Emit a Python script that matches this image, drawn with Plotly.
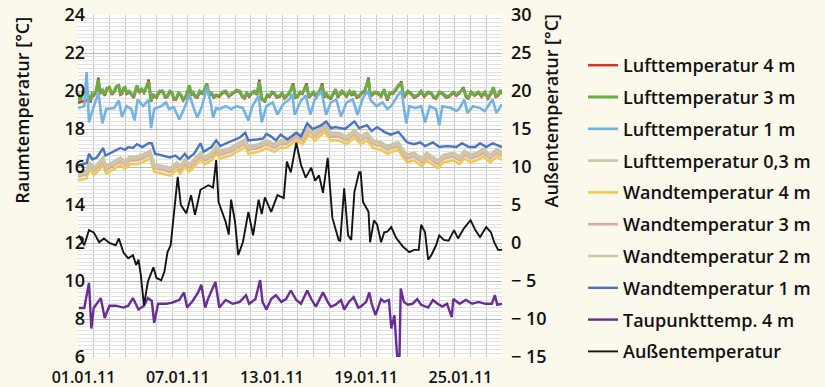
import pandas as pd
import plotly.graph_objects as go

BASE = pd.Timestamp("2011-01-01")

# ---------------- data (day offsets from 01.01.11, values in °C) ----------------
luft3_t = [0, 0.1, 0.2, 0.3, 0.4, 0.55, 0.7, 0.8, 0.9, 1.0, 1.15, 1.3, 1.4, 1.55, 1.7, 1.85, 2.0, 2.15, 2.3, 2.45,
           2.6, 2.7, 2.8, 2.9, 3.0, 3.1, 3.25, 3.4, 3.55, 3.65, 3.75, 3.9, 4.05, 4.2, 4.4, 4.5, 4.65, 4.8, 5.0, 5.2,
           5.4, 5.55, 5.7, 5.85, 6.0, 6.1, 6.25, 6.4, 6.55, 6.7, 6.85, 7.0, 7.1, 7.2, 7.3, 7.45, 7.6, 7.75, 7.9, 8.05,
           8.2, 8.35, 8.5, 8.65, 8.8, 9.0, 9.2, 9.4, 9.6, 9.85, 10.1, 10.3, 10.45, 10.6, 10.75, 10.9, 11.1, 11.25, 11.4, 11.55,
           11.7, 11.9, 12.05, 12.2, 12.35, 12.5, 12.65, 12.85, 13.0, 13.15, 13.3, 13.45, 13.7, 13.85, 14.0, 14.15, 14.3, 14.55, 14.7, 14.85,
           15.0, 15.15, 15.35, 15.55, 15.7, 15.8, 15.95, 16.1, 16.25, 16.4, 16.55, 16.65, 16.8, 16.95, 17.1, 17.3, 17.45, 17.55, 17.75, 17.9,
           18.1, 18.25, 18.5, 18.6, 18.7, 18.9, 19.1, 19.3, 19.5, 19.6, 19.7, 19.85, 20.05, 20.2, 20.4, 20.6, 20.7, 20.8, 21.0, 21.2,
           21.4, 21.65, 21.85, 22.05, 22.3, 22.5, 22.65, 22.8, 23.0, 23.2, 23.45, 23.65, 23.9, 24.1, 24.3, 24.55, 24.7, 24.85, 25.05, 25.25,
           25.5, 25.7, 25.9, 26.1, 26.3, 26.45, 26.6, 26.75, 26.9, 27.0]
luft3_v = [19.9, 19.55, 19.6, 19.95, 20.0, 20.1, 19.6, 19.5, 19.85, 19.8, 20.0, 20.6, 19.9, 20.1, 19.8, 20.15, 20.2, 19.85, 20.0, 20.25,
           20.3, 19.85, 19.9, 20.15, 20.2, 19.9, 20.0, 19.85, 19.7, 20.0, 20.3, 19.95, 20.1, 19.95, 20.3, 20.5, 19.5, 19.8, 19.7, 20.0,
           20.0, 19.7, 19.75, 20.0, 19.9, 19.6, 19.6, 19.9, 19.8, 19.55, 19.7, 20.0, 20.3, 19.8, 20.0, 19.75, 19.7, 20.0, 19.9, 20.05,
           20.4, 19.8, 19.9, 19.7, 19.8, 19.75, 19.95, 20.0, 19.75, 19.9, 20.05, 20.0, 19.75, 19.65, 19.9, 19.75, 19.95, 20.0, 19.85, 20.5,
           19.6, 19.5, 19.8, 19.75, 19.95, 19.9, 19.7, 19.75, 19.9, 19.65, 19.8, 19.9, 20.3, 19.7, 19.75, 19.95, 19.9, 20.3, 19.7, 19.8,
           19.95, 19.75, 19.95, 20.3, 19.7, 19.9, 19.7, 19.65, 19.9, 20.1, 19.7, 19.8, 20.0, 19.9, 19.75, 20.0, 19.8, 20.0, 19.7, 19.75,
           19.95, 20.0, 20.6, 19.9, 19.8, 19.95, 19.9, 19.75, 20.1, 19.8, 19.55, 19.9, 19.9, 20.05, 20.3, 20.4, 19.8, 19.75, 20.0, 19.9,
           19.7, 19.8, 20.0, 19.75, 19.95, 19.9, 19.7, 19.65, 19.95, 19.9, 19.7, 19.75, 19.95, 19.8, 19.95, 20.1, 19.75, 19.65, 19.95, 19.8,
           19.95, 19.75, 19.95, 19.65, 19.9, 20.2, 19.75, 19.8, 20.05, 19.9]
# Lufttemperatur 4 m: almost identical to 3 m, same sampling times
luft4_v = [19.4, 19.4, 19.45, 19.45, 19.5, 19.5, 19.5, 19.45, 19.8, 19.75, 19.95, 20.7, 19.85, 20.05, 19.75, 20.1, 20.15, 19.8, 19.95, 20.2,
           20.25, 19.8, 19.85, 20.1, 20.15, 19.85, 19.95, 19.8, 19.65, 19.95, 20.25, 19.9, 20.05, 19.9, 20.25, 20.6, 19.45, 19.75, 19.65, 19.95,
           19.95, 19.65, 19.7, 19.95, 19.85, 19.55, 19.55, 19.85, 19.75, 19.5, 19.65, 19.95, 20.25, 19.75, 19.95, 19.7, 19.65, 19.95, 19.85, 20.0,
           20.35, 19.75, 19.85, 19.65, 19.75, 19.7, 19.9, 19.95, 19.7, 19.85, 20.0, 19.95, 19.7, 19.6, 19.85, 19.7, 19.9, 19.95, 19.8, 20.6,
           19.55, 19.45, 19.75, 19.7, 19.9, 19.85, 19.65, 19.7, 19.85, 19.6, 19.75, 19.85, 20.4, 19.65, 19.7, 19.9, 19.85, 20.4, 19.65, 19.75,
           19.9, 19.7, 19.9, 20.4, 19.65, 19.85, 19.65, 19.6, 19.85, 20.05, 19.65, 19.75, 19.95, 19.85, 19.7, 19.95, 19.75, 19.95, 19.65, 19.7,
           19.9, 19.95, 20.7, 19.85, 19.75, 19.9, 19.85, 19.7, 20.05, 19.75, 19.5, 19.85, 19.85, 20.0, 20.25, 20.5, 19.75, 19.7, 19.95, 19.85,
           19.65, 19.75, 19.95, 19.7, 19.9, 19.85, 19.65, 19.6, 19.9, 19.85, 19.65, 19.7, 19.9, 19.75, 19.9, 20.2, 19.7, 19.6, 19.9, 19.75,
           19.9, 19.7, 19.9, 19.6, 19.85, 20.15, 19.7, 19.75, 20.0, 19.85]

luft1_t = [0, 0.4, 0.55, 0.7, 0.95, 1.3, 1.55, 1.8, 2.3, 2.6, 2.8, 3.1, 3.4, 3.6, 3.8, 4.15, 4.5, 4.65, 4.85, 5.3,
           5.6, 5.8, 6.1, 6.45, 6.75, 7.1, 7.35, 7.6, 7.9, 8.2, 8.45, 8.6, 8.8, 9.0, 9.4, 9.75, 10.1, 10.5, 10.85, 11.1,
           11.5, 11.7, 12.0, 12.4, 12.7, 13.05, 13.45, 13.65, 13.8, 14.2, 14.5, 14.8, 15.05, 15.5, 15.8, 16.1, 16.45,
           16.75, 17.1, 17.5, 17.8, 18.15, 18.45, 18.65, 19.0, 19.4, 19.7, 19.95, 20.35, 20.6, 20.9, 21.1, 21.5, 21.85,
           22.1, 22.4, 22.8, 23.0, 23.2, 23.75, 24.1, 24.3, 24.6, 24.8, 25.15, 25.6, 25.9, 26.1, 26.4, 26.65, 27.0]
luft1_v = [19.1, 19.2, 21.0, 18.35, 19.05, 19.9, 18.3, 19.05, 19.1, 19.5, 18.65, 19.2, 19.05, 18.45, 19.55, 19.2, 19.55, 18.05, 19.05, 19.2,
           19.4, 19.05, 19.15, 18.5, 19.05, 19.8, 19.15, 18.6, 19.2, 20.2, 19.4, 18.6, 19.1, 19.05, 19.2, 19.05, 19.2, 19.1, 18.45, 19.2,
           19.75, 18.35, 19.2, 19.4, 18.75, 19.3, 19.55, 19.85, 18.75, 19.5, 19.75, 18.75, 19.5, 20.0, 18.75, 19.4, 19.55,
           18.65, 19.4, 19.55, 18.75, 19.65, 20.0, 19.5, 19.2, 19.4, 19.05, 19.2, 19.75, 20.0, 18.3, 19.2, 19.1, 19.2,
           18.35, 19.2, 19.05, 18.2, 19.2, 19.1, 18.95, 19.1, 19.55, 18.85, 19.2, 19.1, 18.95, 19.2, 19.55, 18.85, 19.3]

wall_t = [0, 0.55, 0.7, 1.05, 1.6, 1.8, 2.3, 2.7, 3.0, 3.3, 3.75, 4.1, 4.6, 4.85, 5.4, 5.85, 6.3, 6.5, 6.8, 7.1,
          7.5, 7.8, 8.1, 8.5, 8.8, 9.05, 9.7, 10.1, 10.65, 10.85, 11.5, 12.0, 12.5, 12.9, 13.25, 13.9, 14.3, 14.7, 15.1, 15.7,
          16.1, 16.6, 17.1, 17.6, 18.0, 18.4, 18.8, 19.3, 19.7, 20.0, 20.4, 20.7, 20.95, 21.4, 21.9, 22.2, 22.9, 23.3, 23.9, 24.3,
          24.6, 25.0, 25.4, 25.8, 26.25, 26.7, 27.0]
luft03_v = [15.7, 15.8, 16.25, 16.0, 16.5, 16.05, 16.3, 16.5, 16.3, 16.55, 16.55, 16.65, 16.85, 16.15, 16.05, 15.95, 16.25, 16.05, 16.4, 16.15,
            16.5, 16.75, 16.55, 16.75, 17.1, 16.85, 17.0, 17.2, 17.45, 17.1, 17.2, 17.4, 17.2, 17.4, 17.4, 17.8, 17.6, 18.1, 17.8, 18.25,
            17.8, 17.8, 17.6, 17.95, 17.6, 17.8, 17.4, 17.3, 17.1, 17.2, 17.3, 16.9, 16.65, 16.75, 16.45, 16.75, 16.35, 16.65, 16.75, 16.55,
            16.85, 16.65, 16.75, 16.95, 16.65, 16.95, 16.75]
wand4_v = [15.3, 15.4, 15.85, 15.6, 16.1, 15.65, 15.9, 16.1, 15.9, 16.15, 16.15, 16.25, 16.45, 15.75, 15.65, 15.55, 15.85, 15.65, 16.0, 15.75,
           16.1, 16.35, 16.15, 16.35, 16.7, 16.45, 16.6, 16.8, 17.05, 16.7, 16.8, 17.0, 16.8, 17.0, 17.0, 17.4, 17.2, 17.7, 17.4, 17.85,
           17.4, 17.4, 17.2, 17.55, 17.2, 17.4, 17.0, 16.9, 16.7, 16.8, 16.9, 16.5, 16.25, 16.35, 16.05, 16.35, 15.95, 16.25, 16.35, 16.15,
           16.45, 16.25, 16.35, 16.55, 16.25, 16.55, 16.35]
wand3_v = [15.5, 15.6, 16.05, 15.8, 16.3, 15.85, 16.1, 16.3, 16.1, 16.35, 16.35, 16.45, 16.65, 15.95, 15.85, 15.75, 16.05, 15.85, 16.2, 15.95,
           16.3, 16.55, 16.35, 16.55, 16.9, 16.65, 16.8, 17.0, 17.25, 16.9, 17.0, 17.2, 17.0, 17.2, 17.2, 17.6, 17.4, 17.9, 17.6, 18.05,
           17.6, 17.6, 17.4, 17.75, 17.4, 17.6, 17.2, 17.1, 16.9, 17.0, 17.1, 16.7, 16.45, 16.55, 16.25, 16.55, 16.15, 16.45, 16.55, 16.35,
           16.65, 16.45, 16.55, 16.75, 16.45, 16.75, 16.55]
wand2_v = [15.6, 15.7, 16.15, 15.9, 16.4, 15.95, 16.2, 16.4, 16.2, 16.45, 16.45, 16.55, 16.75, 16.05, 15.95, 15.85, 16.15, 15.95, 16.3, 16.05,
           16.4, 16.65, 16.45, 16.65, 17.0, 16.75, 16.9, 17.1, 17.35, 17.0, 17.1, 17.3, 17.1, 17.3, 17.3, 17.7, 17.5, 18.0, 17.7, 18.15,
           17.7, 17.7, 17.5, 17.85, 17.5, 17.7, 17.3, 17.2, 17.0, 17.1, 17.2, 16.8, 16.55, 16.65, 16.35, 16.65, 16.25, 16.55, 16.65, 16.45,
           16.75, 16.55, 16.65, 16.85, 16.55, 16.85, 16.65]

wand1_t = [0, 0.55, 0.7, 0.9, 1.2, 1.6, 1.75, 2.25, 2.7, 3.0, 3.2, 3.5, 3.75, 4.1, 4.5, 4.7, 4.9, 5.4, 5.85, 6.2,
           6.5, 6.8, 7.0, 7.4, 7.8, 8.0, 8.5, 8.8, 9.05, 9.45, 9.9, 10.3, 10.65, 10.85, 11.4, 11.8, 12.0, 12.3, 12.6, 12.9,
           13.35, 13.9, 14.2, 14.6, 14.95, 15.5, 15.8, 16.1, 16.4, 16.75, 17.0, 17.3, 17.6, 17.9, 18.4, 18.7, 19.05, 19.5,
           19.9, 20.4, 20.7, 20.95, 21.4, 21.8, 22.1, 22.6, 23.0, 23.5, 24.1, 24.45, 24.9, 25.3, 25.6, 26.0, 26.4, 26.8, 27.0]
wand1_v = [16.1, 16.2, 16.7, 16.4, 16.5, 17.0, 16.6, 16.8, 17.0, 16.9, 17.05, 17.0, 17.2, 17.05, 17.25, 17.25, 16.7, 16.6, 16.5, 16.6,
           16.4, 16.7, 16.45, 16.7, 17.25, 16.8, 17.05, 17.4, 17.1, 17.25, 17.4, 17.55, 17.8, 17.4, 17.45, 17.5, 17.75, 17.6, 17.4, 17.7,
           17.45, 17.8, 17.6, 18.3, 18.0, 18.2, 18.4, 18.05, 18.1, 18.05, 18.0, 18.2, 18.4, 18.05, 18.2, 17.9, 18.1, 17.85,
           17.7, 17.85, 17.55, 17.3, 17.2, 17.3, 17.1, 17.3, 17.05, 17.1, 17.05, 17.25, 17.05, 17.05, 17.25, 17.05, 17.25, 17.1, 17.05]

tau_t = [0.05, 0.4, 0.7, 0.85, 1.0, 1.45, 1.7, 2.0, 2.4, 2.9, 3.2, 3.5, 3.85, 4.2, 4.45, 4.7, 4.85, 5.1, 5.6, 5.95,
         6.45, 6.75, 6.95, 7.3, 7.65, 7.85, 8.1, 8.3, 8.75, 9.0, 9.4, 9.85, 10.3, 10.7, 10.9, 11.3, 11.6, 11.75, 12.0, 12.3,
         12.6, 12.95, 13.25, 13.55, 13.9, 14.2, 14.6, 14.85, 15.15, 15.6, 15.9, 16.1, 16.4, 16.75, 16.95, 17.25, 17.55, 17.85,
         18.0, 18.35, 18.55, 18.7, 18.95, 19.3, 19.5, 19.8, 19.95, 20.15, 20.3, 20.45, 20.55, 20.75, 21.0, 21.3, 21.6, 21.85,
         22.3, 22.6, 22.9, 23.2, 23.5, 23.8, 23.9, 24.3, 24.7, 25.1, 25.5, 25.95, 26.35, 26.55, 26.7, 27.0]
tau_v = [8.58, 8.58, 9.9, 7.5, 8.58, 9.1, 8.05, 8.7, 8.7, 8.6, 8.7, 9.1, 8.5, 8.7, 9.1, 8.95, 7.8, 8.8, 8.8, 8.85,
         9.0, 9.4, 8.6, 8.95, 9.4, 9.8, 8.6, 9.1, 9.95, 8.6, 9.0, 8.8, 8.9, 9.25, 8.8, 9.05, 10.05, 8.9, 8.5, 9.05,
         9.25, 8.9, 9.05, 9.5, 9.0, 8.8, 9.5, 9.05, 8.65, 9.4, 8.9, 8.65, 8.75, 9.0, 8.5, 8.9, 9.15, 8.6,
         8.65, 8.9, 9.4, 8.8, 8.2, 9.05, 8.9, 9.0, 7.5, 8.2, 6.3, 5.0, 9.6, 8.9, 8.75, 8.8, 9.05, 8.75,
         8.6, 9.0, 8.8, 8.65, 8.8, 8.1, 9.05, 8.8, 9.0, 8.8, 8.9, 8.8, 8.8, 9.25, 8.75, 8.8]

aussen_t = [0.05, 0.4, 0.7, 1.0, 1.35, 1.65, 2.0, 2.4, 2.6, 2.9, 3.2, 3.5, 3.7, 3.85, 4.0, 4.2, 4.45, 4.8, 5.0, 5.3,
            5.5, 5.7, 5.9, 6.1, 6.35, 6.55, 6.9, 7.2, 7.45, 7.8, 8.3, 8.6, 8.8, 8.95, 9.4, 9.6, 9.75, 10.0, 10.2, 10.5,
            10.85, 11.15, 11.5, 11.7, 11.9, 12.3, 12.7, 13.1, 13.3, 13.55, 13.9, 14.2, 14.5, 14.85, 15.1, 15.35, 15.6, 15.9,
            16.2, 16.6, 16.7, 16.95, 17.2, 17.4, 17.6, 17.9, 18.0, 18.15, 18.5, 18.6, 18.85, 19.05, 19.3, 19.5, 19.7, 19.95,
            20.25, 20.7, 21.1, 21.4, 21.7, 21.85, 22.1, 22.3, 22.5, 22.8, 23.0, 23.3, 23.6, 23.95, 24.2, 24.6, 25.0, 25.3,
            25.6, 26.0, 26.3, 26.5, 26.75, 27.0]
aussen_v = [1.0, -0.3, 1.7, 1.4, 0.1, 0.6, 0.0, -0.3, 0.6, -1.3, -2.0, -1.6, -2.9, -2.2, -4.2, -8.2, -5.1, -3.2, -4.6, -4.9,
            -3.8, -1.2, -0.3, 3.7, 8.7, 5.0, 3.9, 6.3, 3.7, 7.0, 7.6, 7.3, 10.9, 5.4, 2.8, 1.1, 5.7, 2.8, -1.6, 0.1,
            4.1, 1.0, 5.7, 3.8, 6.0, 4.1, 6.3, 5.9, 10.7, 9.3, 13.2, 10.3, 8.6, 9.9, 8.2, 8.9, 6.6, 11.2,
            3.3, 0.4, 0.3, 7.2, 1.0, 0.4, 6.7, 9.3, 9.3, 5.4, 4.1, 0.1, 3.0, 2.4, 0.1, 1.4, 1.5, 2.1,
            0.7, -0.5, -1.2, -0.9, -0.9, 2.4, 1.4, -2.2, -1.6, -0.3, 1.0, 0.4, 0.3, 1.7, 0.6, 2.0, 3.0, 1.7,
            0.8, 2.1, 1.4, 0.1, -0.9, -0.9]

x_tick_days = [0.35, 6.35, 12.35, 18.35, 24.35]   # label anchors (labels sit slightly right of the day line)
x_tick_text = ["01.01.11", "07.01.11", "13.01.11", "19.01.11", "25.01.11"]
y2_tick_vals = [-15, -10, -5, 0, 5, 10, 15, 20, 25, 30]
y2_tick_text = ["− 15", "− 10", "− 5", "0", "5", "10", "15", "20", "25", "30"]


def dates(days):
    return BASE + pd.to_timedelta(days, unit="D")


series = [
    ("Lufttemperatur 4 m", luft3_t, luft4_v, "#d4322b", 2.5, "y"),
    ("Lufttemperatur 3 m", luft3_t, luft3_v, "#6aad45", 3, "y"),
    ("Lufttemperatur 1 m", luft1_t, luft1_v, "#72b3e3", 2.6, "y"),
    ("Lufttemperatur 0,3 m", wall_t, luft03_v, "#cbc3a6", 2.6, "y"),
    ("Wandtemperatur 4 m", wall_t, wand4_v, "#f2c94e", 2.6, "y"),
    ("Wandtemperatur 3 m", wall_t, wand3_v, "#dcaaa6", 2.6, "y"),
    ("Wandtemperatur 2 m", wall_t, wand2_v, "#cdc8a6", 2.6, "y"),
    ("Wandtemperatur 1 m", wand1_t, wand1_v, "#4a73c0", 2.4, "y"),
    ("Taupunkttemp. 4 m", tau_t, tau_v, "#6a2c98", 2.4, "y"),
    ("Außentemperatur", aussen_t, aussen_v, "#141414", 1.9, "y2"),
]

fig = go.Figure()
for i, (name, t, v, col, w, ax) in enumerate(series):
    fig.add_trace(go.Scatter(x=dates(t), y=v, name=name, mode="lines", yaxis=ax,
                             legendgroup=f"g{i}",
                             line=dict(color=col, width=w)))

FONT = "Open Sans"
fig.update_layout(
    width=825, height=387,
    margin=dict(l=78, r=323, t=15, b=30, autoexpand=False),
    paper_bgcolor="#fbf8ec",
    plot_bgcolor="#ffffff",
    font=dict(family=FONT, size=16, color="#111111", weight=600),
    showlegend=True,
    legend=dict(xref="container", yref="container", x=583 / 825, y=1 - 47 / 387,
                xanchor="left", yanchor="top", bgcolor="rgba(0,0,0,0)",
                font=dict(size=18, family=FONT, weight=600), tracegroupgap=5.4,
                itemwidth=30, maxheight=380),
    xaxis=dict(type="date", range=[BASE, dates([27])[0]],
               tickvals=list(dates(x_tick_days)), ticktext=x_tick_text,
               showgrid=False,
               minor=dict(dtick=86400000, showgrid=True, gridcolor="#c9c9c9", gridwidth=1),
               ticks="", zeroline=False, showline=False, tickfont=dict(size=16),
               ticklabelstandoff=9, automargin=False),
    yaxis=dict(range=[6, 24], dtick=2, showgrid=True, gridcolor="#b8b8b8", gridwidth=1,
               minor=dict(dtick=0.2, showgrid=True, gridcolor="#e2e2e2", gridwidth=1),
               zeroline=False, showline=False, ticks="", tickfont=dict(size=18),
               ticklabelstandoff=-8, automargin=False),
    yaxis2=dict(range=[-15, 30], overlaying="y", side="right", tickvals=y2_tick_vals,
                ticktext=y2_tick_text, showgrid=False, zeroline=False, showline=False,
                ticks="", tickfont=dict(size=18), ticklabelstandoff=8, automargin=False),
    annotations=[
        dict(text="Raumtemperatur [°C]", xref="paper", yref="paper", x=-0.132, y=0.72,
             textangle=-90, showarrow=False, font=dict(size=18, family=FONT, weight=600),
             xanchor="center", yanchor="middle"),
        dict(text="Außentemperatur [°C]", xref="paper", yref="paper", x=1.115, y=0.72,
             textangle=-90, showarrow=False, font=dict(size=18, family=FONT, weight=600),
             xanchor="center", yanchor="middle"),
    ],
)

fig.write_html("out.html", config={"displayModeBar": False},
               post_script="document.body.style.margin='0';")
